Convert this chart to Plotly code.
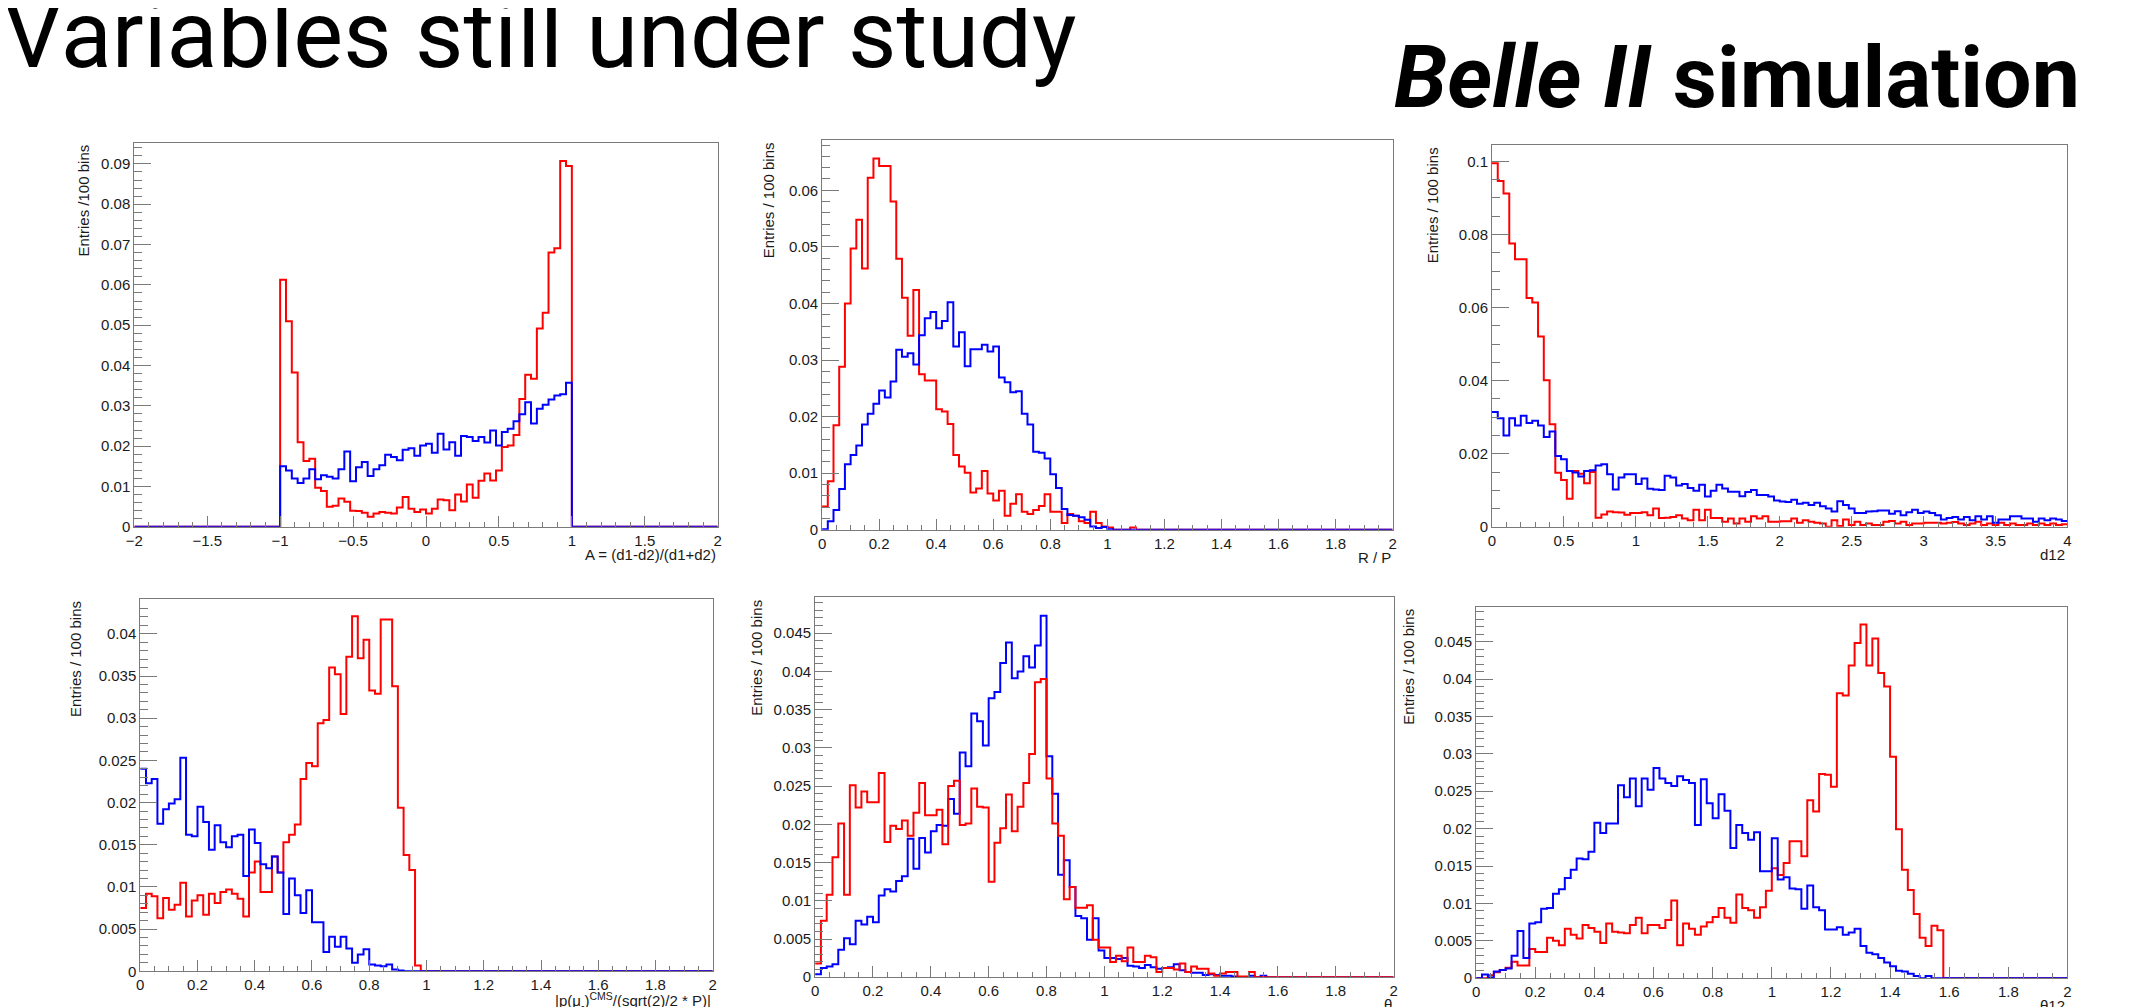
import numpy as np
import plotly.graph_objects as go

# ---------------- data (bin contents, 100 bins each) ----------------
P1_RED = [0, 0, 0, 0, 0, 0, 0, 0, 0, 0, 0, 0, 0, 0, 0, 0, 0, 0, 0, 0, 0, 0, 0, 0, 0,
          0.0613, 0.051, 0.0383, 0.021, 0.0163, 0.0169, 0.0097, 0.0089, 0.005, 0.0052,
          0.007, 0.0062, 0.004, 0.0039, 0.0035, 0.0025, 0.0033, 0.0037, 0.0035, 0.0033,
          0.0048, 0.0074, 0.0045, 0.0037, 0.0043, 0.0033, 0.0045, 0.0068, 0.0066, 0.0041,
          0.008, 0.0063, 0.0105, 0.0072, 0.0114, 0.0132, 0.0115, 0.014, 0.0198, 0.0202,
          0.0228, 0.0317, 0.0377, 0.0367, 0.0492, 0.0531, 0.068, 0.0691, 0.0907, 0.0895,
          0, 0, 0, 0, 0, 0, 0, 0, 0, 0, 0, 0, 0, 0, 0, 0, 0, 0, 0, 0, 0, 0, 0, 0, 0]
P1_BLUE = [0, 0, 0, 0, 0, 0, 0, 0, 0, 0, 0, 0, 0, 0, 0, 0, 0, 0, 0, 0, 0, 0, 0, 0, 0,
           0.015, 0.014, 0.012, 0.0109, 0.012, 0.0143, 0.0118, 0.0128, 0.0124, 0.012,
           0.0143, 0.0187, 0.0113, 0.0148, 0.0161, 0.0126, 0.0143, 0.0153, 0.0179, 0.0173,
           0.0165, 0.0191, 0.0195, 0.0176, 0.0202, 0.0206, 0.0184, 0.0231, 0.0192, 0.021,
           0.0176, 0.0225, 0.0223, 0.0213, 0.0223, 0.0209, 0.0239, 0.0202, 0.0235, 0.0243,
           0.0262, 0.0279, 0.0309, 0.0256, 0.0293, 0.0303, 0.0316, 0.0326, 0.0329, 0.0357,
           0, 0, 0, 0, 0, 0, 0, 0, 0, 0, 0, 0, 0, 0, 0, 0, 0, 0, 0, 0, 0, 0, 0, 0, 0]

P2_RED = [0.0041, 0.0086, 0.0185, 0.0288, 0.040, 0.0497, 0.0548, 0.0462, 0.0622, 0.0656,
          0.0643, 0.0643, 0.058, 0.0479, 0.041, 0.0343, 0.0424, 0.0275, 0.0264, 0.0264,
          0.0213, 0.0209, 0.0187, 0.0132, 0.0112, 0.0101, 0.0066, 0.0073, 0.0104, 0.0064,
          0.0052, 0.0069, 0.0025, 0.0046, 0.0063, 0.0032, 0.0028, 0.0035, 0.0042, 0.0063,
          0.0032, 0.0032, 0.0012, 0.0028, 0.0025, 0.0015, 0.0012, 0.0032, 0.0012, 0.0006,
          0.0004, 0, 0, 0, 0.0004, 0, 0, 0, 0, 0,
          0, 0, 0, 0, 0, 0, 0, 0, 0, 0,
          0, 0, 0, 0, 0, 0, 0, 0, 0, 0,
          0, 0, 0, 0, 0, 0, 0, 0, 0, 0,
          0, 0, 0, 0, 0, 0, 0, 0, 0, 0]
P2_BLUE = [0.0001, 0.0015, 0.0035, 0.0072, 0.0116, 0.0132, 0.0149, 0.0186, 0.0205, 0.0223,
           0.0246, 0.0234, 0.0262, 0.0318, 0.0306, 0.0312, 0.0292, 0.0344, 0.0374, 0.0385,
           0.0356, 0.0369, 0.0402, 0.0324, 0.0349, 0.0289, 0.0319, 0.0319, 0.0327, 0.0315,
           0.0324, 0.0269, 0.0261, 0.0243, 0.0245, 0.0205, 0.0186, 0.0138, 0.0136, 0.0126,
           0.0098, 0.0074, 0.0037, 0.0026, 0.0025, 0.0022, 0.0018, 0.0006, 0.0003, 0.0005,
           0.0001, 0, 0, 0, 0, 0, 0, 0, 0, 0,
           0, 0, 0, 0, 0, 0, 0, 0, 0, 0,
           0, 0, 0, 0, 0, 0, 0, 0, 0, 0,
           0, 0, 0, 0, 0, 0, 0, 0, 0, 0,
           0, 0, 0, 0, 0, 0, 0, 0, 0, 0]

P3_RED = [0.0995, 0.0946, 0.0912, 0.0775, 0.0732, 0.0732, 0.0626, 0.0614, 0.0521, 0.0401,
          0.0281, 0.0148, 0.0128, 0.0077, 0.0153, 0.0145, 0.0119, 0.0150, 0.0025, 0.0034,
          0.0042, 0.0040, 0.0039, 0.0033, 0.0038, 0.0038, 0.0040, 0.0032, 0.0050, 0.0024,
          0.0025, 0.0027, 0.0032, 0.0023, 0.0018, 0.0047, 0.0018, 0.0047, 0.0024, 0.0024,
          0.0014, 0.0023, 0.0009, 0.0023, 0.0014, 0.0029, 0.0023, 0.0029, 0.0014, 0.0014,
          0.0015, 0.0015, 0.0023, 0.0011, 0.0018, 0.0014, 0.0011, 0.0009, 0.0000, 0.0018,
          0.0002, 0.0020, 0.0005, 0.0014, 0.0005, 0.0009, 0.0005, 0.0005, 0.0014, 0.0016,
          0.0009, 0.0014, 0.0005, 0.0009, 0.0009, 0.0011, 0.0011, 0.0011, 0.0009, 0.0011,
          0.0013, 0.0009, 0.0005, 0.0009, 0.0014, 0.0005, 0.0009, 0.0005, 0.0011, 0.0005,
          0.0009, 0.0005, 0.0005, 0.0009, 0.0005, 0.0009, 0.0005, 0.0009, 0.0005, 0.0007]
P3_BLUE = [0.0314, 0.0297, 0.0250, 0.0297, 0.0277, 0.0304, 0.0284, 0.0290, 0.0277, 0.0246,
           0.0261, 0.0194, 0.0185, 0.0153, 0.0149, 0.0138, 0.0153, 0.0155, 0.0168, 0.0171,
           0.0144, 0.0102, 0.0135, 0.0144, 0.0144, 0.0117, 0.0132, 0.0104, 0.0102, 0.0101,
           0.0140, 0.0135, 0.0113, 0.0117, 0.0106, 0.0099, 0.0115, 0.0083, 0.0099, 0.0115,
           0.0105, 0.0096, 0.0096, 0.0084, 0.0095, 0.0101, 0.0087, 0.0087, 0.0083, 0.0072,
           0.0069, 0.0068, 0.0074, 0.0063, 0.0066, 0.0060, 0.0066, 0.0056, 0.0050, 0.0042,
           0.0070, 0.0060, 0.0050, 0.0038, 0.0038, 0.0042, 0.0043, 0.0045, 0.0045, 0.0036,
           0.0043, 0.0032, 0.0040, 0.0047, 0.0038, 0.0042, 0.0038, 0.0032, 0.0020, 0.0024,
           0.0027, 0.0020, 0.0027, 0.0018, 0.0029, 0.0020, 0.0029, 0.0011, 0.0020, 0.0020,
           0.0029, 0.0029, 0.0023, 0.0023, 0.0014, 0.0023, 0.0018, 0.0023, 0.0020, 0.0016]

P4_RED = [0.0075, 0.0092, 0.0089, 0.0063, 0.0087, 0.0073, 0.0079, 0.0105, 0.0065, 0.0084,
          0.0090, 0.0067, 0.0092, 0.0081, 0.0094, 0.0097, 0.0092, 0.0086, 0.0065, 0.0117,
          0.0130, 0.0094, 0.0094, 0.0136, 0.0117, 0.0153, 0.0162, 0.0174, 0.0228, 0.0247,
          0.0243, 0.0294, 0.0298, 0.0360, 0.0352, 0.0305, 0.0373, 0.0421, 0.0371, 0.0393,
          0.0333, 0.0329, 0.0417, 0.0417, 0.0338, 0.0194, 0.0138, 0.0120, 0.0007, 0,
          0, 0, 0, 0, 0, 0, 0, 0, 0, 0,
          0, 0, 0, 0, 0, 0, 0, 0, 0, 0,
          0, 0, 0, 0, 0, 0, 0, 0, 0, 0,
          0, 0, 0, 0, 0, 0, 0, 0, 0, 0,
          0, 0, 0, 0, 0, 0, 0, 0, 0, 0]
P4_BLUE = [0.0240, 0.0223, 0.0228, 0.0175, 0.0192, 0.0199, 0.0204, 0.0253, 0.0162, 0.0160,
           0.0195, 0.0177, 0.0144, 0.0173, 0.0153, 0.0147, 0.0160, 0.0162, 0.0113, 0.0168,
           0.0152, 0.0127, 0.0122, 0.0136, 0.0117, 0.0068, 0.0110, 0.0090, 0.0069, 0.0096,
           0.0058, 0.0058, 0.0023, 0.0041, 0.0029, 0.0041, 0.0027, 0.0010, 0.0020, 0.0026,
           0.0008, 0.0007, 0.0006, 0.0008, 0.0002, 0.0001, 0, 0, 0, 0,
           0, 0, 0, 0, 0, 0, 0, 0, 0, 0,
           0, 0, 0, 0, 0, 0, 0, 0, 0, 0,
           0, 0, 0, 0, 0, 0, 0, 0, 0, 0,
           0, 0, 0, 0, 0, 0, 0, 0, 0, 0,
           0, 0, 0, 0, 0, 0, 0, 0, 0, 0]

P5_RED = [0.0018, 0.0074, 0.0108, 0.0157, 0.0201, 0.0108, 0.0251, 0.0222, 0.0243, 0.0229,
          0.0229, 0.0267, 0.0177, 0.0198, 0.0194, 0.0205, 0.0185, 0.0215, 0.0254, 0.0212,
          0.0212, 0.0219, 0.0174, 0.0250, 0.0257, 0.0199, 0.0201, 0.0247, 0.0223, 0.0222,
          0.0125, 0.0176, 0.0195, 0.0239, 0.0191, 0.0223, 0.0254, 0.0292, 0.0386, 0.0390,
          0.0260, 0.0201, 0.0185, 0.0102, 0.0118, 0.0091, 0.0091, 0.0094, 0.0049, 0.0039,
          0.0039, 0.0020, 0.0028, 0.0021, 0.0039, 0.0020, 0.0020, 0.0028, 0.0026, 0.0007,
          0.0012, 0.0012, 0.0010, 0.0018, 0.0007, 0.0014, 0.0011, 0.0011, 0.0005, 0.0002,
          0.0005, 0.0007, 0.0007, 0.0001, 0.0001, 0.0007, 0, 0, 0, 0,
          0, 0, 0, 0, 0, 0, 0, 0, 0, 0,
          0, 0, 0, 0, 0, 0, 0, 0, 0, 0]
P5_BLUE = [0.0004, 0.0012, 0.0014, 0.0017, 0.0036, 0.0051, 0.0043, 0.0074, 0.0069, 0.0079,
           0.0072, 0.0107, 0.0115, 0.0112, 0.0126, 0.0132, 0.0181, 0.0142, 0.0182, 0.0163,
           0.0191, 0.0199, 0.0198, 0.0233, 0.0214, 0.0294, 0.0276, 0.0345, 0.0335, 0.0303,
           0.0365, 0.0373, 0.0411, 0.0438, 0.0391, 0.0400, 0.0420, 0.0405, 0.0434, 0.0473,
           0.0289, 0.0240, 0.0134, 0.0153, 0.0118, 0.0080, 0.0077, 0.0049, 0.0077, 0.0035,
           0.0025, 0.0025, 0.0024, 0.0025, 0.0015, 0.0014, 0.0012, 0.0016, 0.0013, 0.0011,
           0.0012, 0.0013, 0.0017, 0.0009, 0.0007, 0.0006, 0.0006, 0.0003, 0.0004, 0.0003,
           0.0002, 0.0002, 0.0001, 0, 0, 0.0002, 0, 0.0002, 0, 0,
           0, 0, 0, 0, 0, 0, 0, 0, 0, 0,
           0, 0, 0, 0, 0, 0, 0, 0, 0, 0]

P6_RED = [0, 0, 0.0004, 0.0008, 0.0011, 0.0014, 0.0022, 0.0017, 0.0017, 0.0039,
          0.0035, 0.0035, 0.0054, 0.0050, 0.0044, 0.0066, 0.0058, 0.0053, 0.0071, 0.0067,
          0.0062, 0.0047, 0.0073, 0.0062, 0.0061, 0.0060, 0.0071, 0.0081, 0.0060, 0.0071,
          0.0071, 0.0067, 0.0078, 0.0104, 0.0044, 0.0073, 0.0066, 0.0058, 0.0069, 0.0075,
          0.0082, 0.0094, 0.0081, 0.0074, 0.0112, 0.0094, 0.0091, 0.0081, 0.0095, 0.0117,
          0.0147, 0.0138, 0.0154, 0.0183, 0.0183, 0.0163, 0.0238, 0.0223, 0.0273, 0.0272,
          0.0256, 0.0381, 0.0378, 0.0418, 0.0448, 0.0473, 0.0418, 0.0454, 0.0408, 0.0390,
          0.0296, 0.0199, 0.0145, 0.0118, 0.0086, 0.0054, 0.0043, 0.0070, 0.0064, 0,
          0, 0, 0, 0, 0, 0, 0, 0, 0, 0,
          0, 0, 0, 0, 0, 0, 0, 0, 0, 0]
P6_BLUE = [0, 0.0005, 0.0001, 0.0009, 0.0011, 0.0013, 0.0030, 0.0063, 0.0027, 0.0073,
           0.0075, 0.0093, 0.0094, 0.0113, 0.0119, 0.0134, 0.0145, 0.0160, 0.0159, 0.0169,
           0.0208, 0.0194, 0.0207, 0.0207, 0.0258, 0.0242, 0.0267, 0.0230, 0.0267, 0.0252,
           0.0281, 0.0267, 0.0261, 0.0257, 0.0270, 0.0265, 0.0261, 0.0205, 0.0266, 0.0234,
           0.0214, 0.0246, 0.0224, 0.0174, 0.0205, 0.0194, 0.0185, 0.0195, 0.0143, 0.0143,
           0.0187, 0.0132, 0.0135, 0.0120, 0.0119, 0.0093, 0.0124, 0.0095, 0.0091, 0.0065,
           0.0065, 0.0068, 0.0058, 0.0061, 0.0066, 0.0043, 0.0034, 0.0032, 0.0027, 0.0021,
           0.0016, 0.0010, 0.0009, 0.0006, 0.0003, 0, 0.0003, 0, 0, 0,
           0, 0, 0, 0, 0, 0, 0, 0, 0, 0,
           0, 0, 0, 0, 0, 0, 0, 0, 0, 0]

X_TITLES = ["A = (d1-d2)/(d1+d2)", "R / P", "d12",
            "|p(μ<sub>-</sub>)<sup>CMS</sup>/(sqrt(2)/2 * P)|", "θ", "θ12"]
Y_TITLES = ["Entries /100 bins", "Entries / 100 bins", "Entries / 100 bins",
            "Entries / 100 bins", "Entries / 100 bins", "Entries / 100 bins"]
X_RANGES = [(-2, 2), (0, 2), (0, 4), (0, 2), (0, 2), (0, 2)]
Y_MAX = [0.0952, 0.0689, 0.1045, 0.0441, 0.0497, 0.0496]
X_DTICK = [(0.5, 0.1), (0.2, 0.05), (0.5, 0.1), (0.2, 0.05), (0.2, 0.05), (0.2, 0.05)]
Y_DTICK = [(0.01, 0.002), (0.01, 0.002), (0.02, 0.005), (0.005, 0.001), (0.005, 0.001), (0.005, 0.001)]
RED_SERIES = [P1_RED, P2_RED, P3_RED, P4_RED, P5_RED, P6_RED]
BLUE_SERIES = [P1_BLUE, P2_BLUE, P3_BLUE, P4_BLUE, P5_BLUE, P6_BLUE]
RED_ON_TOP = [False, False, False, False, True, False]

# ---------------- layout (pixels) ----------------
W, H = 2145, 1007
FRAMES = [  # left, right, top, bottom
    (118, 705, 136, 523),
    (810, 1384, 133, 526),
    (1484, 2063, 138, 523),
    (124, 700, 596, 971),
    (803, 1385, 594, 977),
    (1468, 2063, 604, 978),
]
YTITLE_X = [67, 757, 1425, 59, 744, 1400]

RED = "#ff0000"
BLUE = "#0000ff"
AX = "#7a7a7a"
TXT = "#1a1a1a"
FONT = "Liberation Sans, Arial, Helvetica, sans-serif"

fig = go.Figure()
annotations = []


def px_x(v):
    return v / W


def px_y(v):
    return 1 - v / H


for i in range(6):
    n = i + 1
    xa = "x" if n == 1 else f"x{n}"
    ya = "y" if n == 1 else f"y{n}"
    lo, hi = X_RANGES[i]
    edges = np.linspace(lo, hi, len(RED_SERIES[i]) + 1)

    def trace(vals, color):
        return go.Scatter(x=edges, y=list(vals) + [vals[-1]], mode="lines",
                          line=dict(color=color, width=2, shape="hv"),
                          xaxis=xa, yaxis=ya, showlegend=False, hoverinfo="skip")

    if RED_ON_TOP[i]:
        fig.add_trace(trace(BLUE_SERIES[i], BLUE))
        fig.add_trace(trace(RED_SERIES[i], RED))
    else:
        fig.add_trace(trace(RED_SERIES[i], RED))
        fig.add_trace(trace(BLUE_SERIES[i], BLUE))

    L, R, T, B = FRAMES[i]
    xd, xm = X_DTICK[i]
    yd, ym = Y_DTICK[i]
    xkey = "xaxis" if n == 1 else f"xaxis{n}"
    ykey = "yaxis" if n == 1 else f"yaxis{n}"
    fig.layout[xkey] = dict(
        domain=[px_x(L), px_x(R)], anchor=ya, range=[lo, hi],
        showline=True, linecolor=AX, linewidth=1, mirror=True,
        ticks="inside", ticklen=11, tickwidth=1, tickcolor=AX,
        tick0=lo, dtick=xd,
        minor=dict(dtick=xm, tick0=lo, ticks="inside", ticklen=5, tickwidth=1,
                   tickcolor=AX, showgrid=False),
        showgrid=False, zeroline=False,
        tickfont=dict(family=FONT, size=15, color=TXT),
    )
    fig.layout[ykey] = dict(
        domain=[px_y(B), px_y(T)], anchor=xa, range=[0, Y_MAX[i]],
        showline=True, linecolor=AX, linewidth=1, mirror=True,
        ticks="inside", ticklen=17, tickwidth=1, tickcolor=AX,
        tick0=0, dtick=yd,
        minor=dict(dtick=ym, tick0=0, ticks="inside", ticklen=8, tickwidth=1,
                   tickcolor=AX, showgrid=False),
        showgrid=False, zeroline=False,
        tickfont=dict(family=FONT, size=15, color=TXT),
    )

    # x-axis title (right aligned at end of axis, below labels)
    annotations.append(dict(
        text=X_TITLES[i], xref="paper", yref="paper",
        x=px_x(R), y=px_y(B + 17), xanchor="right", yanchor="top",
        showarrow=False, font=dict(family=FONT, size=15, color=TXT)))
    # y-axis title (rotated, aligned at top of axis)
    annotations.append(dict(
        text=Y_TITLES[i], xref="paper", yref="paper",
        x=px_x(YTITLE_X[i]), y=px_y(T), xanchor="center", yanchor="top",
        textangle=-90, showarrow=False, font=dict(family=FONT, size=15, color=TXT)))

# page texts
annotations.append(dict(
    text="Variables still under study", xref="paper", yref="paper",
    x=px_x(-16), y=px_y(85), xanchor="left", yanchor="bottom",
    showarrow=False, font=dict(family="Roboto", size=94, color="#000000")))
annotations.append(dict(
    text="<b><i>Belle II</i> simulation</b>", xref="paper", yref="paper",
    x=px_x(2078), y=px_y(123), xanchor="right", yanchor="bottom",
    showarrow=False, font=dict(family="Roboto", size=86, color="#000000")))

fig.update_layout(
    width=W, height=H, margin=dict(l=0, r=0, t=0, b=0),
    paper_bgcolor="white", plot_bgcolor="white",
    annotations=annotations, showlegend=False,
)

fig.write_html("out.html")
